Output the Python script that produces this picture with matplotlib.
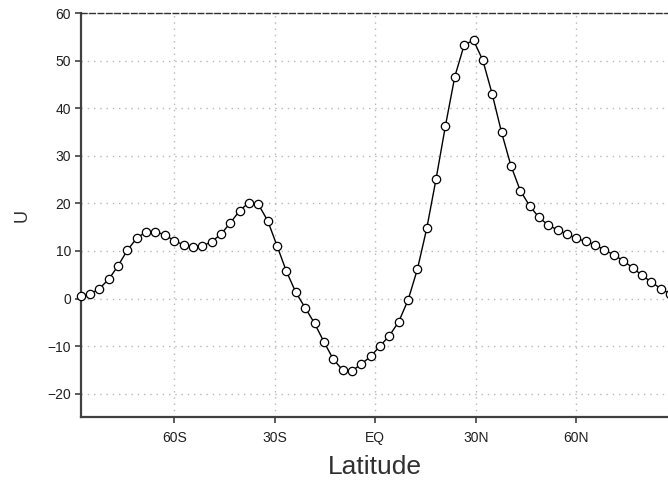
import matplotlib
matplotlib.use("Agg")
import matplotlib.pyplot as plt

# T42 Gaussian latitudes (degrees), south to north
lat_north = [1.3953, 4.1859, 6.9765, 9.7671, 12.5578, 15.3484, 18.1390, 20.9296,
             23.7202, 26.5108, 29.3014, 32.0920, 34.8825, 37.6731, 40.4636, 43.2542,
             46.0447, 48.8352, 51.6257, 54.4162, 57.2066, 59.9970, 62.7874, 65.5776,
             68.3678, 71.1578, 73.9475, 76.7369, 79.5256, 82.3129, 85.0965, 87.8638]
lats = [-v for v in reversed(lat_north)] + lat_north

# zonal-mean zonal wind U (m/s)
u_wind = [0.55, 0.9, 2.1, 4.05, 6.9, 10.2, 12.7, 14.05, 14.1, 13.35,
          12.2, 11.25, 10.9, 11.0, 11.95, 13.55, 15.9, 18.5, 20.2, 19.8,
          16.35, 11.05, 5.7, 1.3, -1.95, -5.2, -9.1, -12.75, -15.05, -15.25,
          -13.8, -12.2, -10.0, -7.85, -4.9, -0.35, 6.15, 14.75, 25.2, 36.35,
          46.7, 53.35, 54.35, 50.1, 43.0, 34.95, 27.95, 22.7, 19.5, 17.05,
          15.45, 14.4, 13.55, 12.65, 12.0, 11.3, 10.2, 9.2, 7.95, 6.5,
          4.9, 3.5, 2.1, 1.0]

xticks = [-60, -30, 0, 30, 60]
xticklabels = ["60S", "30S", "EQ", "30N", "60N"]
yticks = [-20, -10, 0, 10, 20, 30, 40, 50, 60]
yticklabels = ["\u221220", "\u221210", "0", "10", "20", "30", "40", "50", "60"]

plt.rcParams["font.family"] = ["Liberation Sans", "DejaVu Sans"]

W, H = 668, 480
fig = plt.figure(figsize=(W / 100, H / 100), dpi=100)
x0, x1 = 80.8, 669.8
y_top, y_bot = 13.4, 417.3
ax = fig.add_axes([x0 / W, 1 - y_bot / H, (x1 - x0) / W, (y_bot - y_top) / H])

ax.plot(lats, u_wind, color="black", lw=1.0, marker="o", markersize=6.0,
        markerfacecolor="white", markeredgecolor="black", markeredgewidth=0.9,
        clip_on=False, zorder=3)

ax.set_xlim(lats[0], lats[-1])
ax.set_ylim(-25, 60)
ax.set_xticks(xticks)
ax.set_xticklabels(xticklabels)
ax.set_yticks(yticks)
ax.set_yticklabels(yticklabels)

ax.grid(True, color="#b8b8b8", linestyle=(0, (1, 3.5)), linewidth=1.0)
ax.set_axisbelow(True)

for side in ("left", "bottom"):
    ax.spines[side].set_color("#404040")
    ax.spines[side].set_linewidth(1.6)
ax.spines["right"].set_visible(False)
ax.spines["top"].set_color("#303030")
ax.spines["top"].set_linewidth(1.0)
ax.spines["top"].set_linestyle((0, (4, 2)))

ax.tick_params(axis="both", direction="out", length=4, width=1.2, color="#404040",
               labelsize=10, labelcolor="#202020")
ax.tick_params(axis="x", pad=6)
ax.tick_params(axis="y", pad=3)

# axis titles placed in figure pixels
fig.text(375 / W, 1 - 474 / H, "Latitude", fontsize=19, color="#303030",
         ha="center", va="baseline")
fig.text(22 / W, 1 - 215 / H, "U", fontsize=13, color="#303030",
         ha="center", va="center", rotation=90)

fig.savefig("out.png", dpi=100)
